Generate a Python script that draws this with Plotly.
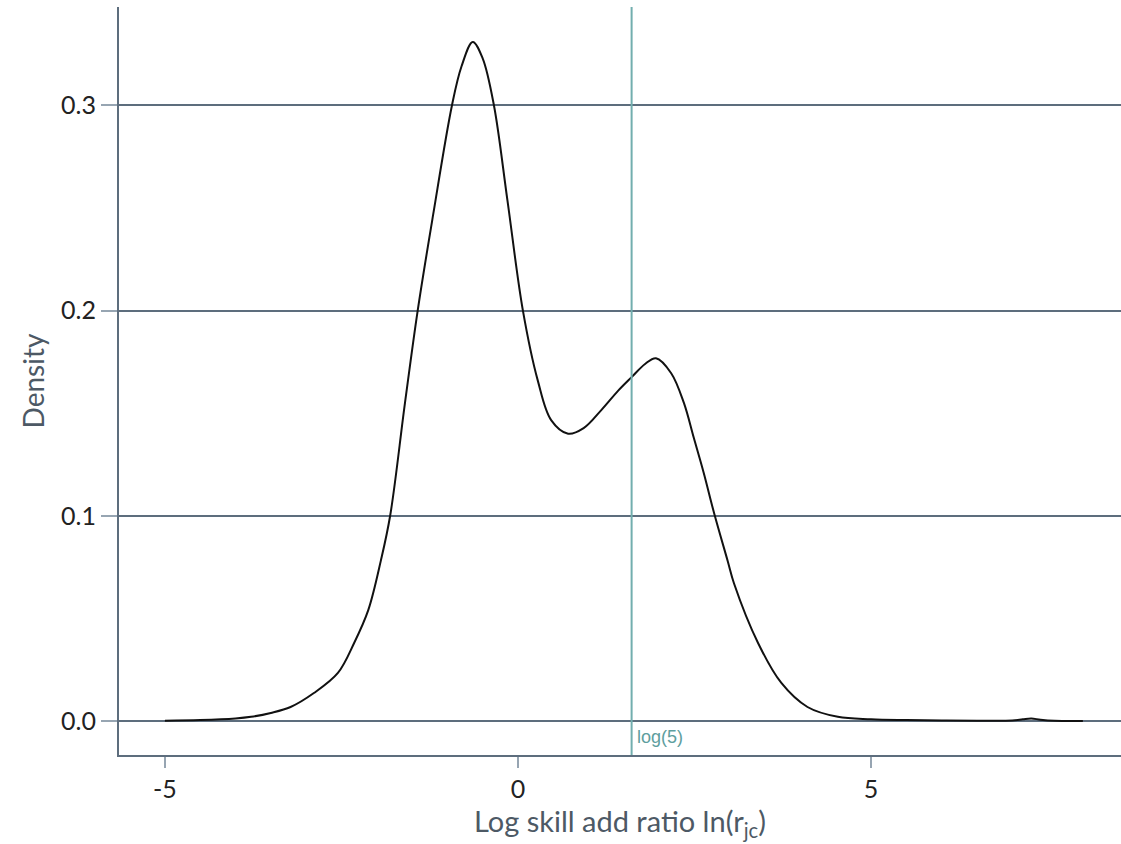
import plotly.graph_objects as go
import math

# KDE curve values
x_vals = [-5.0, -4.5, -4.0, -3.78, -3.5, -3.22, -2.89, -2.55, -2.32, -2.12, -1.94, -1.81,
          -1.6, -1.42, -1.2, -0.935, -0.8, -0.64, -0.5, -0.34, -0.15, 0.07, 0.28, 0.47,
          0.71, 0.93, 1.18, 1.42, 1.61, 1.8, 1.955, 2.17, 2.35, 2.49, 2.63, 2.78, 2.97,
          3.06, 3.4, 3.73, 4.1, 4.53, 5.0, 5.5, 6.0, 6.5, 7.0, 7.15, 7.27, 7.4, 7.6, 8.0]
density = [0.0001, 0.0004, 0.0012, 0.002, 0.0039, 0.0068, 0.0136, 0.0234, 0.038, 0.054,
           0.0784, 0.100, 0.155, 0.200, 0.247, 0.300, 0.319, 0.331, 0.323, 0.300, 0.254,
           0.200, 0.166, 0.1466, 0.140, 0.1427, 0.1515, 0.161, 0.1676, 0.174, 0.1768,
           0.1695, 0.155, 0.138, 0.121, 0.101, 0.078, 0.067, 0.038, 0.0185, 0.0068,
           0.002, 0.0008, 0.0004, 0.0002, 0.0001, 0.0002, 0.0008, 0.0012, 0.0006,
           0.0001, 0.0]

x_ticks = [-5, 0, 5]
x_tick_labels = ["-5", "0", "5"]
y_ticks = [0.0, 0.1, 0.2, 0.3]
y_tick_labels = ["0.0", "0.1", "0.2", "0.3"]
ref_x = math.log(5)
ref_label = "log(5)"

GRID = "#5d6d7d"
TICK = "#97a5b2"
TEAL = "#72aeae"
FONT = "Lato"

fig = go.Figure()
fig.add_trace(go.Scatter(
    x=x_vals, y=density, mode="lines",
    line=dict(color="#111111", width=2, shape="spline", smoothing=1.0),
    hoverinfo="skip", showlegend=False,
))

fig.add_shape(type="line", xref="x", yref="paper", x0=ref_x, x1=ref_x, y0=0, y1=1,
              line=dict(color=TEAL, width=2), layer="above")
fig.add_annotation(x=ref_x, y=-0.0078, xref="x", yref="y", text=ref_label,
                   showarrow=False, xanchor="left", yanchor="middle", xshift=3,
                   font=dict(family="Liberation Sans, Arial", size=18, color="#5e9e9e"))

fig.update_layout(
    width=1121, height=844,
    margin=dict(l=119, r=0, t=7, b=89),
    paper_bgcolor="white", plot_bgcolor="white",
    font=dict(family=FONT, color="#222222"),
    xaxis=dict(
        range=[-5.65, 8.54], tickvals=x_ticks, ticktext=x_tick_labels,
        showgrid=False, zeroline=False,
        showline=True, linecolor=GRID, linewidth=2,
        ticks="outside", ticklen=11, tickwidth=1.5, tickcolor=TICK,
        tickfont=dict(family=FONT, size=25, color="#222222"),
        title=dict(text="Log skill add ratio ln(r<sub>jc</sub>)",
                   font=dict(family=FONT, size=29, color="#4d5965"), standoff=9),
    ),
    yaxis=dict(
        range=[-0.0166, 0.348], tickvals=y_ticks, ticktext=y_tick_labels,
        showgrid=True, gridcolor=GRID, gridwidth=2, zeroline=False,
        showline=True, linecolor=GRID, linewidth=2,
        ticks="outside", ticklen=16, tickwidth=1.5, tickcolor=TICK,
        tickfont=dict(family=FONT, size=25, color="#222222"),
        title=dict(text="Density", font=dict(family=FONT, size=28, color="#4d5965"),
                   standoff=8),
    ),
)

fig.write_html("out.html", config={"displayModeBar": False},
               post_script="document.body.style.margin='0';document.body.style.overflow='hidden';")
